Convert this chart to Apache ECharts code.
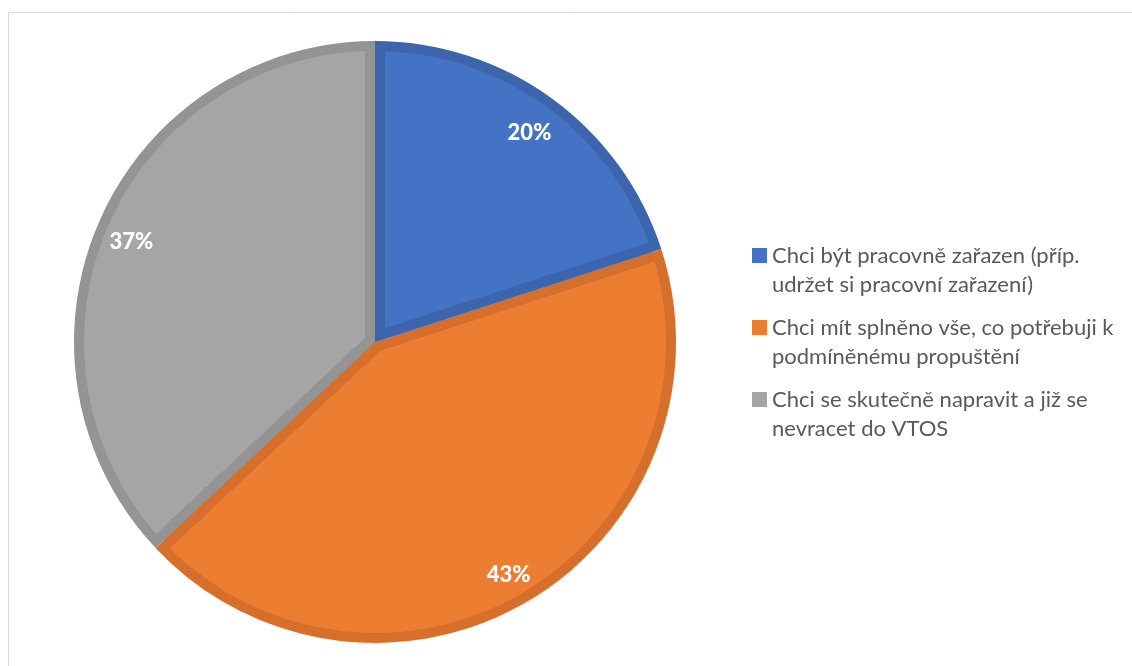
<!DOCTYPE html>
<html lang="cs">
<head>
<meta charset="utf-8">
<title>Pie</title>
<style>
  html, body { margin: 0; padding: 0; background: #fff; }
  #main { width: 1132px; height: 666px; }
</style>
</head>
<body>
<div id="main"></div>
<script src="https://cdn.jsdelivr.net/npm/echarts@6/dist/echarts.min.js"></script>
<script>
  // data
  var categories = [
    'Chci být pracovně zařazen (příp. udržet si pracovní zařazení)',
    'Chci mít splněno vše, co potřebuji k podmíněnému propuštění',
    'Chci se skutečně napravit a již se nevracet do VTOS'
  ];
  var legendLines = [
    'Chci být pracovně zařazen (příp.\nudržet si pracovní zařazení)',
    'Chci mít splněno vše, co potřebuji k\npodmíněnému propuštění',
    'Chci se skutečně napravit a již se\nnevracet do VTOS'
  ];
  var values = [20, 43, 37];

  var fillColors = ['#4472c4', '#ed7d31', '#a5a5a5'];
  var edgeColors = ['#3c65ae', '#d56f2b', '#949494'];

  var center = [375, 342];
  var R = 301;      // outer radius
  var EDGE = 10;    // width of the darker edge band inside each slice

  var myChart = echarts.init(document.getElementById('main'));

  var total = values.reduce(function (a, b) { return a + b; }, 0);

  // gradient with a hard stop EDGE px away from a slice's radial edge,
  // so the darker band only sits on the slice's own side
  function edgeBand(angleDeg, sign, dark, rest) {
    var a = angleDeg * Math.PI / 180;
    var nx = sign * Math.cos(a), ny = sign * Math.sin(a);
    return {
      type: 'linear',
      global: true,
      x: center[0], y: center[1],
      x2: center[0] + nx * EDGE * 2, y2: center[1] + ny * EDGE * 2,
      colorStops: [
        { offset: 0, color: dark },
        { offset: 0.5, color: dark },
        { offset: 0.5, color: rest },
        { offset: 1, color: rest }
      ]
    };
  }

  var baseData = [], startData = [], endData = [], labelData = [];
  var cum = 0;
  categories.forEach(function (name, i) {
    var a0 = 360 * cum / total;
    cum += values[i];
    var a1 = 360 * cum / total;
    baseData.push({ name: name, value: values[i], itemStyle: { color: edgeColors[i] } });
    startData.push({ name: name, value: values[i], itemStyle: { color: edgeBand(a0, 1, edgeColors[i], fillColors[i]) } });
    endData.push({ name: name, value: values[i], itemStyle: { color: edgeBand(a1, -1, edgeColors[i], 'rgba(0,0,0,0)') } });
    labelData.push({ name: name, value: values[i] });
  });

  function pieLayer(radius, data, extra) {
    var s = {
      type: 'pie',
      center: center,
      radius: radius,
      startAngle: 90,
      silent: true,
      label: { show: false },
      labelLine: { show: false },
      itemStyle: { borderWidth: 0 },
      data: data
    };
    for (var k in extra) s[k] = extra[k];
    return s;
  }

  var option = {
    backgroundColor: '#fff',
    animation: false,
    color: fillColors,
    graphic: [{
      type: 'rect',
      shape: { x: 8.5, y: 12.5, width: 1300, height: 800 },
      style: { fill: 'none', stroke: '#d9d9d9', lineWidth: 1 },
      silent: true
    }],
    legend: {
      data: categories.map(function (name, i) {
        return { name: name, itemStyle: { color: fillColors[i], borderWidth: 0 } };
      }),
      orient: 'vertical',
      left: 752,
      top: 212,
      padding: 0,
      itemWidth: 15,
      itemHeight: 15,
      itemGap: -15,
      icon: 'rect',
      selectedMode: false,
      formatter: function (name) {
        // leading empty line keeps the first text line level with the marker
        return '\n' + legendLines[categories.indexOf(name)];
      },
      textStyle: {
        fontFamily: 'Lato',
        fontSize: 22,
        color: '#595959',
        lineHeight: 29
      }
    },
    series: [
      pieLayer([0, R], baseData),
      pieLayer([0, R - EDGE], startData),
      pieLayer([0, R - EDGE], endData),
      pieLayer([222, R], labelData, {
        itemStyle: { color: 'rgba(0,0,0,0)', borderWidth: 0 },
        label: {
          show: true,
          position: 'inside',
          formatter: '{c}%',
          color: '#fff',
          fontFamily: 'Lato',
          fontWeight: 900,
          fontSize: 22,
          offset: [-1, 5]
        }
      })
    ]
  };

  myChart.setOption(option);
</script>
</body>
</html>
